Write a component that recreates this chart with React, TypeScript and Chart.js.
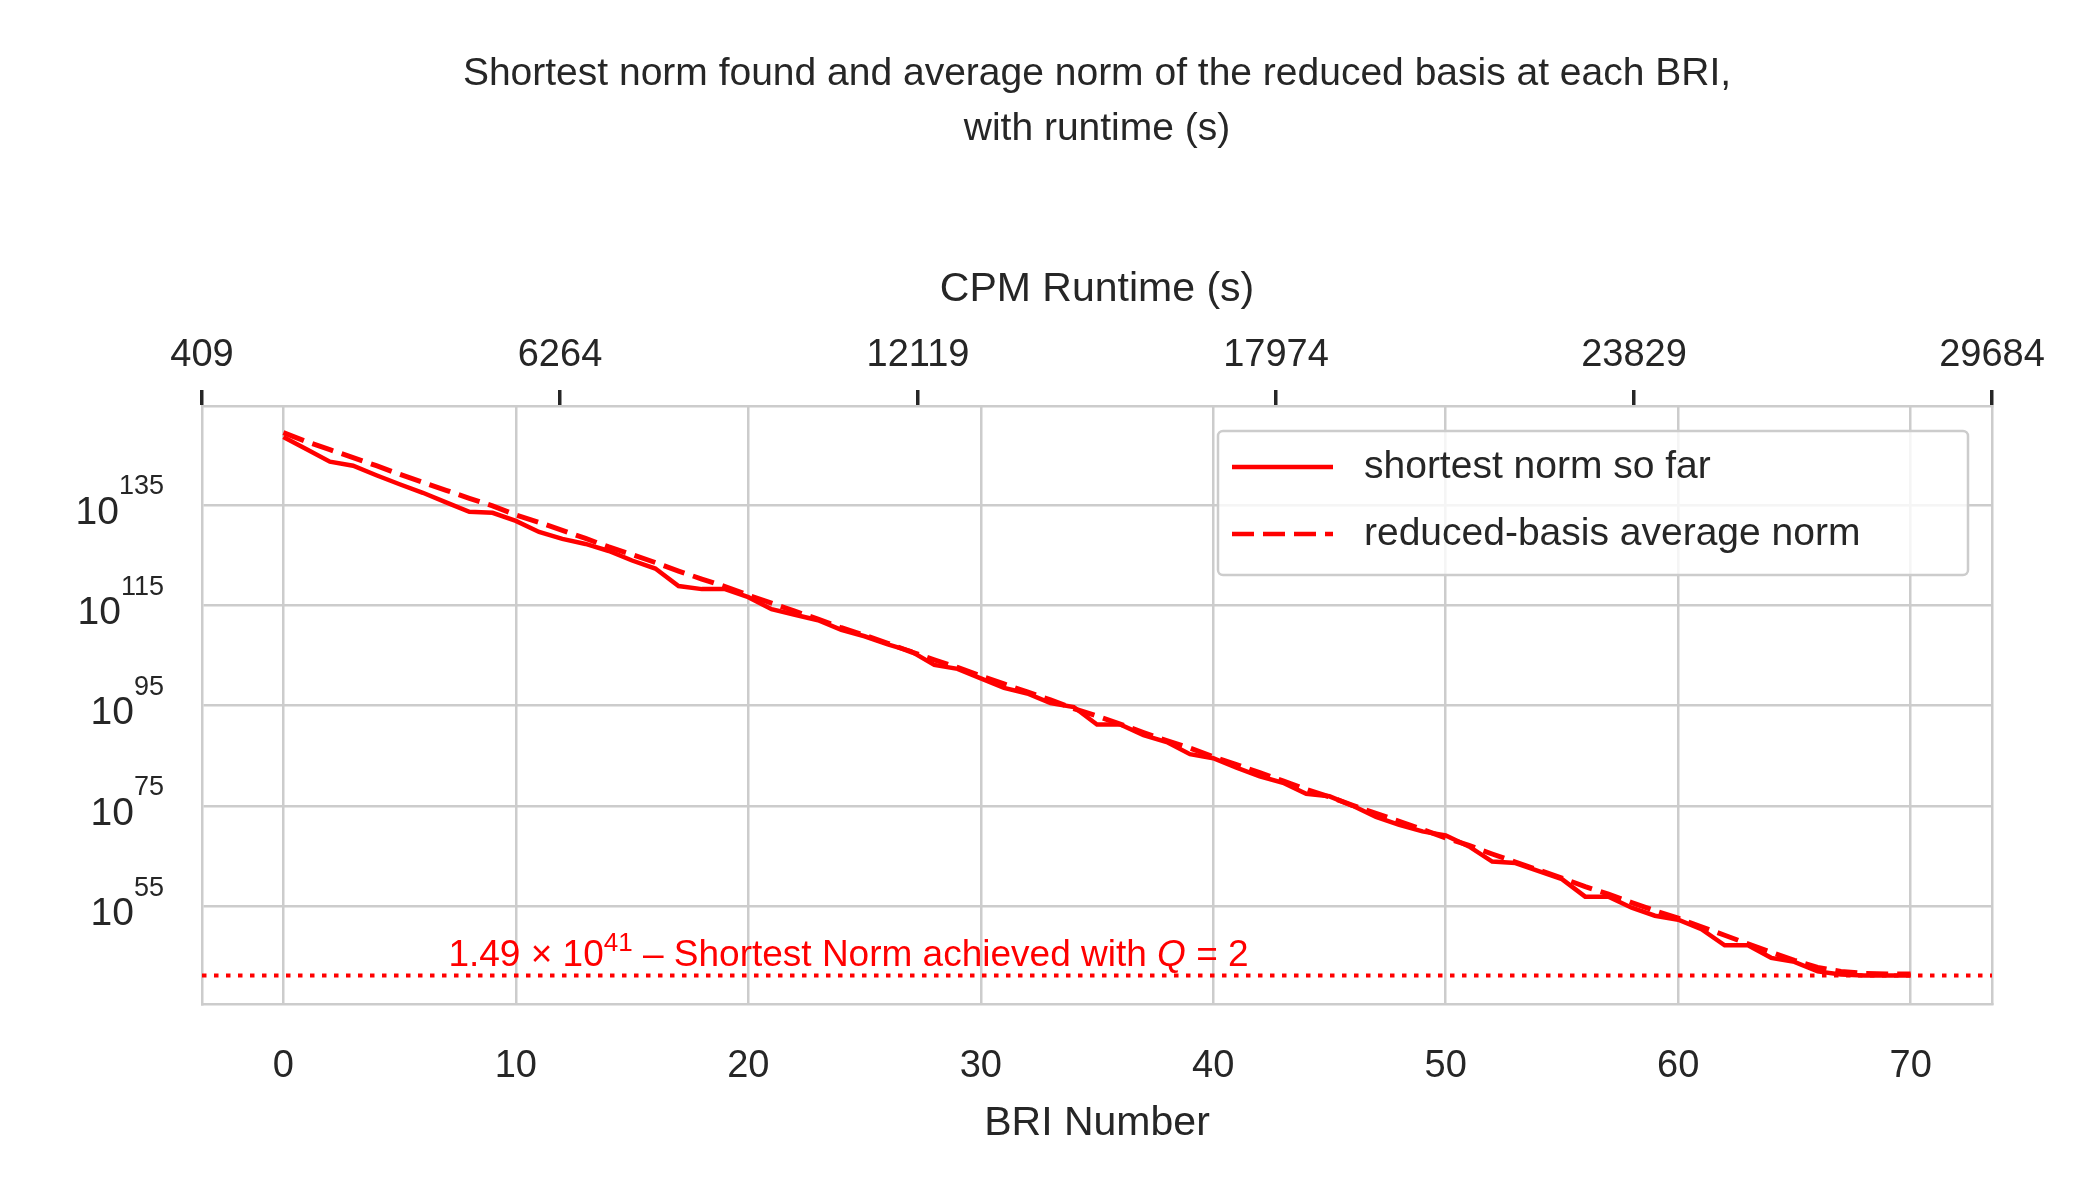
import React, { useEffect, useRef } from "react";
import { Chart, registerables } from "chart.js";
Chart.register(...registerables);

const briNumbers: number[] = Array.from({ length: 71 }, (_, i) => i);
const shortestExp: number[] = [148.5,146.1,143.6,142.8,140.9,139.1,137.4,135.5,133.6,133.4,131.8,129.6,128.2,127.2,125.8,123.9,122.3,118.8,118.2,118.2,116.6,114.2,113.1,112.0,110.1,108.8,107.2,105.8,103.1,102.3,100.4,98.5,97.4,95.5,94.7,91.2,91.2,89.1,87.7,85.3,84.5,82.6,80.9,79.6,77.4,76.9,75.0,72.8,71.2,69.9,69.1,66.9,63.9,63.6,62.0,60.4,56.9,56.9,54.7,53.1,52.3,50.4,47.2,47.2,44.7,43.9,42.0,41.4,41.17,41.17,41.17];
const averageExp: number[] = [149.4,147.6,146.0,144.4,142.8,141.1,139.5,137.9,136.3,134.8,133.0,131.5,129.9,128.3,126.6,125.1,123.5,121.8,120.2,118.7,117.0,115.4,113.8,112.2,110.5,109.0,107.4,105.7,104.1,102.6,100.9,99.3,97.7,96.1,94.4,92.9,91.3,89.6,88.0,86.5,84.8,83.2,81.6,80.0,78.3,76.8,75.1,73.5,71.9,70.3,68.6,67.1,65.4,63.8,62.2,60.6,58.9,57.4,55.7,54.1,52.6,50.9,49.2,47.5,45.8,44.2,42.8,42.0,41.6,41.5,41.5];
const bestExp = 41.17; // log10(1.49e41)
const yTickExps: number[] = [55, 75, 95, 115, 135];
const runtimeTicks: number[] = [409, 6264, 12119, 17974, 23829, 29684];
const xTicks: number[] = [0, 10, 20, 30, 40, 50, 60, 70];

const FONT = "'Liberation Sans', Arial, sans-serif";
const TXT = "#262626";
const GRID = "#cccccc";

export default function App() {
  const ref = useRef<HTMLCanvasElement>(null);
  useEffect(() => {
    document.body.style.margin = "0";
    const overlay = {
      id: "overlay",
      afterDraw(chart: any) {
        const ctx = chart.ctx;
        const x = chart.scales.x, y = chart.scales.y;
        const area = chart.chartArea;
        const cx = (area.left + area.right) / 2;
        ctx.save();
        // titles
        ctx.fillStyle = TXT; ctx.textAlign = "center"; ctx.textBaseline = "middle";
        ctx.font = `39px ${FONT}`;
        ctx.fillText("Shortest norm found and average norm of the reduced basis at each BRI,", cx, 74);
        ctx.fillText("with runtime (s)", cx, 129);
        ctx.font = `41px ${FONT}`;
        ctx.fillText("CPM Runtime (s)", cx, 290);
        ctx.fillText("BRI Number", cx, 1124);
        // y tick labels
        for (const e of yTickExps) {
          const py = y.getPixelForValue(e);
          ctx.textAlign = "right";
          ctx.font = `27px ${FONT}`;
          const ew = ctx.measureText(String(e)).width;
          ctx.fillText(String(e), 164, py - 18);
          ctx.font = `39px ${FONT}`;
          ctx.fillText("10", 164 - ew, py + 8);
        }
        // annotation text
        const yy = y.getPixelForValue(bestExp) - 10;
        let px = x.getPixelForValue(7.1);
        ctx.fillStyle = "#ff0000";
        ctx.textBaseline = "alphabetic";
        ctx.textAlign = "left";
        const seg = (t: string, f: string) => { ctx.font = f; ctx.fillText(t, px, yy); px += ctx.measureText(t).width; };
        seg("1.49 × 10", `37px ${FONT}`);
        ctx.font = `26px ${FONT}`; ctx.fillText("41", px, yy - 15); px += ctx.measureText("41").width;
        seg(" – Shortest Norm achieved with ", `37px ${FONT}`);
        seg("Q", `italic 37px ${FONT}`);
        seg(" = 2", `37px ${FONT}`);
        // legend
        const lx = 1218, ly = 431, lw = 750, lh = 144;
        ctx.fillStyle = "rgba(255,255,255,0.8)";
        ctx.strokeStyle = GRID; ctx.lineWidth = 2.5;
        ctx.beginPath(); (ctx as any).roundRect(lx, ly, lw, lh, 5); ctx.fill(); ctx.stroke();
        ctx.strokeStyle = "#ff0000"; ctx.lineWidth = 4.5;
        ctx.setLineDash([]);
        ctx.beginPath(); ctx.moveTo(lx + 14, ly + 36); ctx.lineTo(lx + 115, ly + 36); ctx.stroke();
        ctx.setLineDash([22, 9]);
        ctx.beginPath(); ctx.moveTo(lx + 14, ly + 103); ctx.lineTo(lx + 115, ly + 103); ctx.stroke();
        ctx.setLineDash([]);
        ctx.fillStyle = TXT; ctx.font = `39px ${FONT}`; ctx.textBaseline = "middle";
        ctx.fillText("shortest norm so far", lx + 146, ly + 36);
        ctx.fillText("reduced-basis average norm", lx + 146, ly + 103);
        ctx.restore();
      },
    };
    const chart = new Chart(ref.current!, {
      type: "line",
      data: {
        datasets: [
          { label: "shortest norm so far", data: briNumbers.map((b, i) => ({ x: b, y: shortestExp[i] })), borderColor: "#ff0000", borderWidth: 4.5, pointRadius: 0, xAxisID: "x", yAxisID: "y" },
          { label: "reduced-basis average norm", data: briNumbers.map((b, i) => ({ x: b, y: averageExp[i] })), borderColor: "#ff0000", borderWidth: 5, borderDash: [22, 9], pointRadius: 0, xAxisID: "x", yAxisID: "y" },
          { label: "best", data: [{ x: -3.5, y: bestExp }, { x: 73.5, y: bestExp }], borderColor: "#ff0000", borderWidth: 4, borderDash: [4.5, 7.5], pointRadius: 0, xAxisID: "x", yAxisID: "y" },
        ],
      },
      options: {
        animation: false,
        responsive: false,
        layout: { padding: 0 },
        plugins: { legend: { display: false }, tooltip: { enabled: false }, title: { display: false } },
        scales: {
          x: {
            type: "linear", position: "bottom", min: -3.5, max: 73.5,
            afterBuildTicks: (s: any) => { s.ticks = xTicks.map((v) => ({ value: v })); },
            afterFit: (s: any) => { s.height = 196; },
            ticks: { color: TXT, font: { family: FONT, size: 38 }, padding: 40, maxRotation: 0 },
            grid: { color: GRID, lineWidth: 2.5, drawTicks: false },
            border: { color: GRID, width: 2.5 },
          },
          x2: {
            type: "linear", position: "top", min: 409, max: 29684,
            afterBuildTicks: (s: any) => { s.ticks = runtimeTicks.map((v) => ({ value: v })); },
            afterFit: (s: any) => { s.height = 406; },
            ticks: { color: TXT, font: { family: FONT, size: 38 }, padding: 12, maxRotation: 0, callback: (v: any) => String(v) },
            grid: { drawOnChartArea: false, color: TXT, lineWidth: 3.5, tickLength: 16 },
            border: { color: GRID, width: 2.5 },
          },
          y: {
            type: "linear", min: 35.5, max: 154.7,
            afterBuildTicks: (s: any) => { s.ticks = yTickExps.map((v) => ({ value: v })); },
            afterFit: (s: any) => { s.width = 202; },
            ticks: { display: false },
            grid: { color: GRID, lineWidth: 2.5, drawTicks: false },
            border: { color: GRID, width: 2.5 },
          },
          yR: {
            type: "linear", position: "right", min: 35.5, max: 154.7,
            afterFit: (s: any) => { s.width = 108; },
            ticks: { display: false }, grid: { display: false, drawTicks: false },
            border: { color: GRID, width: 2.5 },
          },
        },
      } as any,
      plugins: [overlay],
    });
    return () => chart.destroy();
  }, []);
  return <canvas ref={ref} width={2100} height={1200} style={{ display: "block", width: 2100, height: 1200 }} />;
}
